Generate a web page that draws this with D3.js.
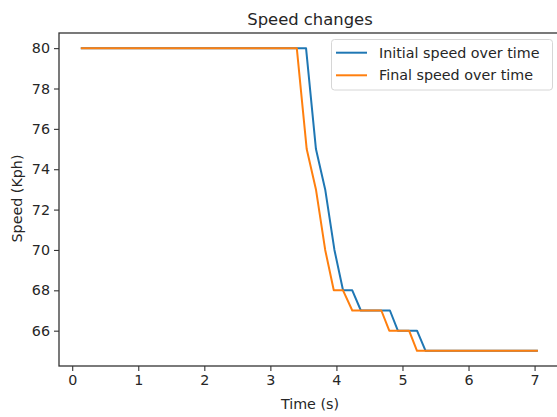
<!DOCTYPE html>
<html>
<head>
<meta charset="utf-8">
<script src="https://cdn.jsdelivr.net/npm/d3@7"></script>
<style>
  body { margin: 0; background: #fff; }
  text { font-family: "DejaVu Sans", sans-serif; fill: #262626; }
</style>
</head>
<body>
<svg id="chart" width="557" height="417"></svg>
<script>
// series
const initialTime  = [0.13, 3.54, 3.69, 3.83, 3.97, 4.10, 4.24, 4.37, 4.81, 4.93, 5.22, 5.35, 7.05]
const initialSpeed = [80,   80,   75,   73,   70,   68,   68,   67,   67,   66,   66,   65,   65]
const finalTime    = [0.13, 3.40, 3.55, 3.69, 3.83, 3.96, 4.10, 4.24, 4.68, 4.80, 5.10, 5.22, 7.05]
const finalSpeed   = [80,   80,   75,   73,   70,   68,   68,   67,   67,   66,   66,   65,   65]
const xTicks = [0, 1, 2, 3, 4, 5, 6, 7]
const yTicks = [66, 68, 70, 72, 74, 76, 78, 80]
const seriesNames = ["Initial speed over time", "Final speed over time"]
const colors = ["#1f77b4", "#ff7f0e"]

const svg = d3.select("#chart")
const MARGIN = { top: 33, left: 59, bottom: 366, right: 561 }
const FONT = 14.3

const x = d3.scaleLinear().domain([-0.2, 7.4]).range([MARGIN.left, MARGIN.right])
const y = d3.scaleLinear().domain([64.25, 80.75]).range([MARGIN.bottom, MARGIN.top])

// axes
const xAxis = svg.append("g")
    .attr("transform", `translate(0,${MARGIN.bottom})`)
    .call(d3.axisBottom(x).tickValues(xTicks).tickSize(5).tickPadding(4).tickFormat(d3.format("d")))
const yAxis = svg.append("g")
    .attr("transform", `translate(${MARGIN.left},0)`)
    .call(d3.axisLeft(y).tickValues(yTicks).tickSize(5).tickPadding(4).tickFormat(d3.format("d")))

for (const ax of [xAxis, yAxis]) {
    ax.select(".domain").remove()
    ax.selectAll(".tick line").attr("stroke", "#333").attr("stroke-width", 1.1)
    ax.selectAll(".tick text").attr("font-size", FONT).attr("fill", "#262626")
        .attr("font-family", "DejaVu Sans, sans-serif")
}
xAxis.selectAll(".tick text").attr("dy", "0.68em")

// spines
svg.append("rect")
    .attr("x", MARGIN.left).attr("y", MARGIN.top)
    .attr("width", MARGIN.right - MARGIN.left).attr("height", MARGIN.bottom - MARGIN.top)
    .attr("fill", "none").attr("stroke", "#333").attr("stroke-width", 1.3)

// lines
const line = d3.line().x(d => x(d[0])).y(d => y(d[1]))
const series = [
    d3.zip(initialTime, initialSpeed),
    d3.zip(finalTime, finalSpeed)
]
series.forEach((s, i) => {
    svg.append("path")
        .datum(s)
        .attr("d", line)
        .attr("fill", "none")
        .attr("stroke", colors[i])
        .attr("stroke-width", 2)
        .attr("stroke-linejoin", "round")
})

// title and labels
svg.append("text").attr("x", 310).attr("y", 25).attr("text-anchor", "middle")
    .attr("font-size", 16.4).text("Speed changes")
svg.append("text").attr("x", 310).attr("y", 408.5).attr("text-anchor", "middle")
    .attr("font-size", FONT).text("Time (s)")
svg.append("text").attr("transform", "translate(22,198.5) rotate(-90)").attr("text-anchor", "middle")
    .attr("font-size", FONT).text("Speed (Kph)")

// legend
const legend = svg.append("g")
legend.append("rect")
    .attr("x", 331.5).attr("y", 39.5).attr("width", 221).attr("height", 50.5)
    .attr("rx", 3).attr("fill", "#fff").attr("fill-opacity", 0.8)
    .attr("stroke", "#d6d6d6")
seriesNames.forEach((name, i) => {
    const ly = 52.7 + i * 22.6
    legend.append("line").attr("x1", 336).attr("x2", 367).attr("y1", ly).attr("y2", ly)
        .attr("stroke", colors[i]).attr("stroke-width", 2)
    legend.append("text").attr("x", 379).attr("y", ly + 5)
        .attr("font-size", FONT).text(name)
})
</script>
</body>
</html>
